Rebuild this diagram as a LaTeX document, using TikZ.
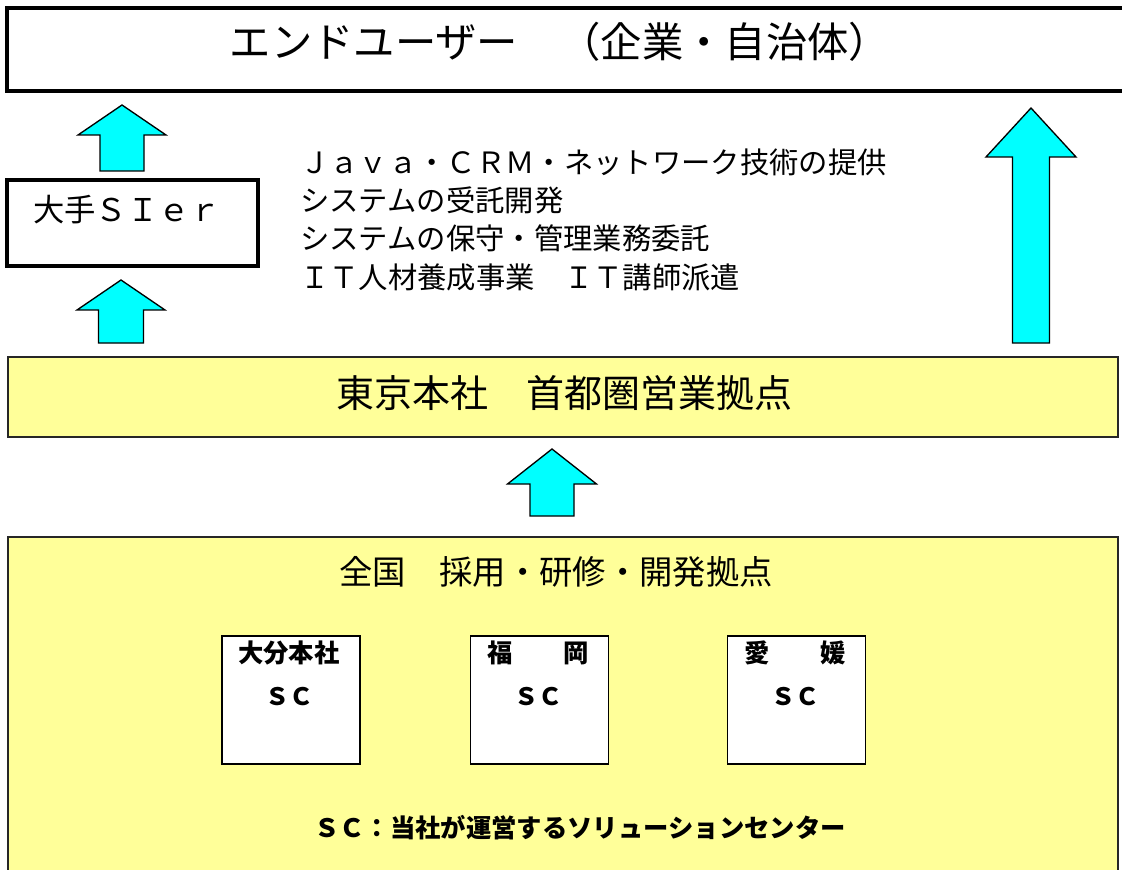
\documentclass[tikz,border=0pt]{standalone}
\usepackage{fontspec}
\setmainfont{Noto Sans CJK JP}
\definecolor{paleyellow}{HTML}{FFFF99}
\definecolor{arrowcyan}{HTML}{00FFFF}
\tikzset{
  thickbox/.style={draw=black, line width=3pt, fill=white, inner sep=0pt},
  ybox/.style={draw=black!85, line width=1pt, fill=paleyellow, inner sep=0pt},
  scbox/.style={draw=black, line width=1.1pt, fill=white, inner sep=0pt,
    minimum width=103.5pt, minimum height=96pt},
  txt/.style={inner sep=0pt, text=black},
  blockup/.style={draw=black, fill=arrowcyan, line width=1pt, line join=miter},
}
\newcommand\upblock[6]{%
  \draw[blockup] (#1,#2) -- (#1+#5,#3) -- (#1+#6,#3) -- (#1+#6,#4) -- (#1-#6,#4)
    -- (#1-#6,#3) -- (#1-#5,#3) -- cycle;}
\newcommand\fs[1]{\fontsize{#1}{#1}\selectfont}
\begin{document}
\begin{tikzpicture}[x=0.75pt, y=-0.75pt]
\useasboundingbox (0,0) rectangle (1122,870);
\clip (0,0) rectangle (1122,870);
\fill[white] (0,0) rectangle (1122,870);

% boxes
\node[thickbox, minimum width=839.25pt, minimum height=62.25pt] (enduser) at (566.5,49.5) {};
\node[thickbox, minimum width=188.25pt, minimum height=64.5pt] (sier) at (132.5,223) {};
\node[ybox, minimum width=832.5pt, minimum height=60pt] (tokyo) at (563,397) {};
\node[ybox, minimum width=832.5pt, minimum height=257.25pt] (national) at (563,708.5) {};
\node[scbox] (sc1) at (291,700) {};
\node[scbox] (sc2) at (539.5,700) {};
\node[scbox] (sc3) at (796.5,700) {};

% arrows
\upblock{122}{105}{135}{171}{44}{22}
\upblock{121}{280}{310}{343}{44}{22.5}
\upblock{1031}{108}{157}{343}{45}{18.5}
\upblock{552}{449}{484}{516}{44.5}{22}

% texts
\node[txt] (enduserlabel) at (560,42) {\fs{31pt}エンドユーザー　（企業・自治体）};
\node[txt, anchor=west] (sierlabel) at (33,210) {\fs{23.5pt}大手ＳＩｅｒ};
\node[txt, anchor=west] (svc1) at (300,162) {\fs{22pt}Ｊａｖａ・ＣＲＭ・ネットワーク技術の提供};
\node[txt, anchor=west] (svc2) at (300,200) {\fs{22pt}システムの受託開発};
\node[txt, anchor=west] (svc3) at (300,238) {\fs{22pt}システムの保守・管理業務委託};
\node[txt, anchor=west] (svc4) at (300,277) {\fs{22pt}ＩＴ人材養成事業　ＩＴ講師派遣};
\node[txt] (tokyolabel) at (564,393) {\fs{28.5pt}東京本社　首都圏営業拠点};
\node[txt] (nationallabel) at (556,572) {\fs{25pt}全国　採用・研修・開発拠点};
\node[txt, anchor=west] (sc1name) at (238,653) {\fs{19pt}\bfseries 大分本社};
\node[txt, anchor=west] (sc2name) at (487,653) {\fs{19pt}\bfseries 福　　岡};
\node[txt, anchor=west] (sc3name) at (744,653) {\fs{19pt}\bfseries 愛　　媛};
\node[txt] (sc1code) at (289,697) {\fs{18pt}\bfseries ＳＣ};
\node[txt] (sc2code) at (538,697) {\fs{18pt}\bfseries ＳＣ};
\node[txt] (sc3code) at (795,697) {\fs{18pt}\bfseries ＳＣ};
\node[txt] (note) at (580,828) {\fs{19pt}\bfseries ＳＣ：当社が運営するソリューションセンター};
\end{tikzpicture}
\end{document}
